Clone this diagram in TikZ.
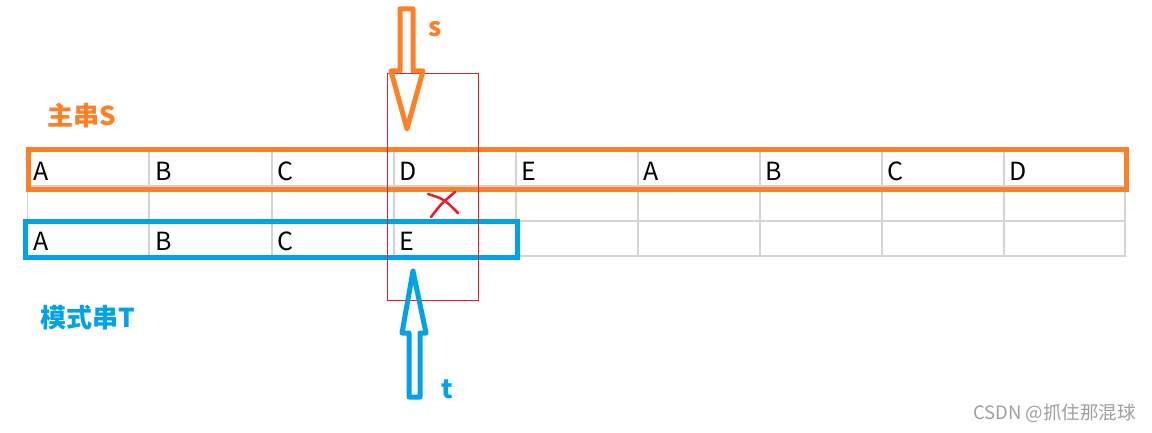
\documentclass[tikz,border=0pt]{standalone}
\usepackage{fontspec}
\newfontfamily\cjk{Noto Sans CJK SC}
\usetikzlibrary{positioning}
\definecolor{mainorange}{HTML}{FF7F27}
\definecolor{patblue}{HTML}{00A2E8}
\definecolor{markred}{HTML}{ED1C24}
\definecolor{gridgray}{HTML}{D4D4D4}
\tikzset{
    cell/.style={anchor=base west, inner sep=0pt, font=\cjk\fontsize{25}{25}\selectfont},
    tagtext/.style={anchor=base west, inner sep=0pt, font=\cjk\bfseries\fontsize{26}{26}\selectfont},
    blockarrow/.style={line width=5pt, line join=round}
}

\begin{document}
\begin{tikzpicture}[x=1pt, y=-1pt]
  \useasboundingbox[fill=white] (0,0) rectangle (1152,433);
  % grid of the sheet
  \foreach \y in {151,186,221,256} \draw[gridgray, line width=1.2pt] (27.5,\y) -- (1125,\y);
  \foreach \x in {27.5,149,272,394,516,638,760,882,1004,1125} \draw[gridgray, line width=1.2pt] (\x,151) -- (\x,257);
  % main string S
  \foreach \ch [count=\i from 0] in {A,B,C,D,E,A,B,C,D}
    \node[cell] (s\i) at ({33+122*\i},181) {\ch};
  % pattern string T
  \foreach \ch [count=\i from 0] in {A,B,C,E}
    \node[cell] (t\i) at ({33+122*\i},251) {\ch};
  \draw[mainorange, line width=5pt] (28,150) rectangle (1126,190);
  \draw[patblue, line width=5pt] (25,221) rectangle (517,257);
  % compared column
  \draw[markred, line width=1pt] (387,74) rectangle (478,300);
  \draw[markred, line width=2.5pt, line cap=round] (428,194) .. controls (444,199) .. (458,213);
  \draw[markred, line width=2.5pt, line cap=round] (455,192) .. controls (441,204) .. (431,217);
  % pointers
  \draw[mainorange, blockarrow] (400,9) -- (413,9) -- (413,71) -- (423,71) -- (407,129) -- (391,71) -- (400,71) -- cycle;
  \draw[patblue, blockarrow] (409,397) -- (420,397) -- (420,333) -- (426,333) -- (413,271) -- (402,333) -- (409,333) -- cycle;
  \node[tagtext, text=mainorange] (sptr) at (428,37) {s};
  \node[tagtext, text=patblue] (tptr) at (441,398) {t};
  \node[tagtext, text=mainorange] (mainlbl) at (47,126) {主串S};
  \node[tagtext, text=patblue] (patlbl) at (40,327) {模式串T};
  \node[anchor=base east, inner sep=0pt, text=gray!75, font=\cjk\fontsize{18.5}{18.5}\selectfont] (mark) at (1136,419) {CSDN @抓住那混球};
\end{tikzpicture}
\end{document}
